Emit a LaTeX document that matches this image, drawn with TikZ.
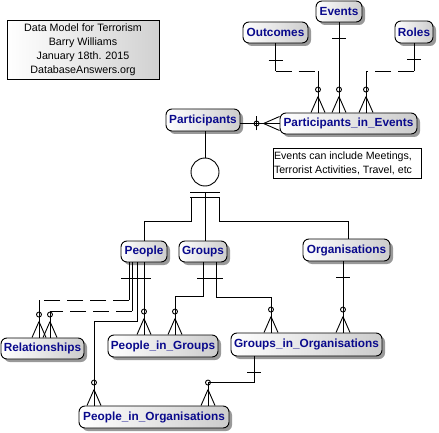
\documentclass[tikz,border=0pt]{standalone}
\usepackage{fontspec}
\setmainfont{Liberation Sans}
\usetikzlibrary{shadows}
\definecolor{entblue}{RGB}{10,10,140}

\begin{document}
\begin{tikzpicture}[x=1pt,y=-1pt,line width=0.9pt,
    entity/.style={draw,rounded corners=6pt,inner sep=0pt,minimum height=21pt,
      left color=white,right color=black!20,
      drop shadow={shadow xshift=3pt,shadow yshift=-3pt,fill=black!40,opacity=1},
      text=entblue,font=\fontsize{11.8}{13}\selectfont\bfseries},
    titlebox/.style={draw,left color=white,right color=black!18,
      minimum width=152pt,minimum height=56pt,align=center,
      font=\fontsize{10.7}{14}\selectfont},
    notebox/.style={draw,fill=white,minimum width=148pt,minimum height=30pt},
    nonid/.style={dash pattern=on 16pt off 7pt},
    crow/.pic={\draw (0,-16) -- (-7,0) (0,-16) -- (7,0);
      \draw (0,-23) circle[radius=2.5];},
    onebar/.pic={\draw (-7,0) -- (7,0);}]
  \useasboundingbox (0,0) rectangle (439,433);

  % notes
  \node[titlebox] (title) at (83,50) {Data Model for Terrorism\\Barry Williams\\
    January 18th. 2015\\DatabaseAnswers.org};
  \node[notebox] (note) at (347,163) {};
  \node[anchor=west,align=left,inner sep=0pt,font=\fontsize{10.6}{14}\selectfont]
    (notetext) at ([xshift=1pt]note.west)
    {Events can include Meetings,\\Terrorist Activities, Travel, etc};

  % entities
  \node[entity,minimum width=46pt] (Events) at (339,11.5) {Events};
  \node[entity,minimum width=65pt] (Outcomes) at (275.5,32.5) {Outcomes};
  \node[entity,minimum width=38pt,minimum height=22pt] (Roles) at (414,32) {Roles};
  \node[entity,minimum width=74pt,minimum height=22pt] (Participants) at (203,120) {Participants};
  \node[entity,minimum width=137pt] (PiE) at (348.5,123.5) {Participants\_in\_Events};
  \node[entity,minimum width=46pt] (People) at (144,251.5) {People};
  \node[entity,minimum width=48pt] (Groups) at (203,251.5) {Groups};
  \node[entity,minimum width=87pt,minimum height=22pt] (Organisations) at (346.5,250) {Organisations};
  \node[entity,minimum width=83pt] (Relationships) at (42.5,348.5) {Relationships};
  \node[entity,minimum width=110pt,minimum height=22pt] (PiG) at (163,346) {People\_in\_Groups};
  \node[entity,minimum width=151pt,minimum height=23pt] (GiO) at (306.5,344.5) {Groups\_in\_Organisations};
  \node[entity,minimum width=150pt,minimum height=22pt] (PiO) at (154,417) {People\_in\_Organisations};

  % events
  \coordinate (pie1) at ([xshift=-30.5pt]PiE.north);
  \coordinate (pie3) at ([xshift=17.5pt]PiE.north);
  \draw (Outcomes.south) -- ++(0,28) coordinate (o1);
  \draw[nonid] (o1) -- (o1 -| pie1);
  \draw (o1 -| pie1) -- (pie1);
  \pic at (pie1) {crow};
  \pic at ([yshift=-17pt]Outcomes.south) {onebar};
  \draw (Events.south) -- (Events.south |- PiE.north);
  \pic at (Events.south |- PiE.north) {crow};
  \pic at ([yshift=-16pt]Events.south) {onebar};
  \draw (Roles.south) -- ++(0,28) coordinate (ro1);
  \draw[nonid] (ro1) -- (ro1 -| pie3);
  \draw (ro1 -| pie3) -- (pie3);
  \pic at (pie3) {crow};
  \pic at ([yshift=-16pt]Roles.south) {onebar};
  \draw (Participants.east |- PiE.west) -- (PiE.west);
  \pic[rotate=90] at (PiE.west) {crow};
  \pic[rotate=90] at ([xshift=-23pt]PiE.west) {onebar};

  % subtypes
  \node[draw,circle,minimum size=28pt,inner sep=0pt] (cat) at (205,172) {};
  \draw (Participants.south -| cat) -- (cat.north);
  \draw (190,192) coordinate (cb1) -- (220,192);
  \draw (190,197) -- (220,197);
  \draw (191,197) -- (191,221) -| (People.north);
  \draw (cb1 -| cat) -- (cat |- Groups.north);
  \draw (219,197) -- (219,221) -| ([xshift=1.5pt]Organisations.north);

  % people
  \coordinate (rel1) at ([xshift=-3.5pt]Relationships.north);
  \coordinate (rel2) at ([xshift=7.5pt]Relationships.north);
  \draw ([xshift=-15pt]People.south) -- ++(0,38) coordinate (r1);
  \draw[nonid] (r1) -- (r1 -| rel1);
  \draw (r1 -| rel1) -- (rel1);
  \draw ([xshift=-12pt]People.south) -- ++(0,49) coordinate (r2);
  \draw[nonid] (r2) -- (r2 -| rel2);
  \draw (r2 -| rel2) -- (rel2);
  \pic at (rel1) {crow};
  \pic at (rel2) {crow};
  \draw ([xshift=-7pt]People.south) -- ++(0,59) -| ([xshift=-60pt]PiO.north);
  \pic at ([xshift=-60pt]PiO.north) {crow};
  \draw (People.south) -- (People.south |- PiG.north);
  \pic at (People.south |- PiG.north) {crow};
  \draw ([shift={(-23,16)}]People.south) -- ++(30,0);

  % groups
  \draw (Groups.south) -- ++(0,34) -| ([xshift=12pt]PiG.north);
  \pic at ([xshift=12pt]PiG.north) {crow};
  \draw ([xshift=13pt]Groups.south) -- ++(0,35) -| ([xshift=-35.5pt]GiO.north);
  \pic at ([xshift=-35.5pt]GiO.north) {crow};
  \draw ([shift={(-6,16)}]Groups.south) -- ++(26,0);

  % organisations
  \coordinate (org1) at ([xshift=-3.5pt]Organisations.south);
  \draw (org1) -- (org1 |- GiO.north);
  \pic at (org1 |- GiO.north) {crow};
  \pic at ([yshift=-16pt]org1) {onebar};
  \draw ([xshift=-52.5pt]GiO.south) -- ++(0,26) -| ([xshift=54pt]PiO.north);
  \pic at ([xshift=54pt]PiO.north) {crow};
  \pic at ([shift={(-52.5,16)}]GiO.south) {onebar};
\end{tikzpicture}
\end{document}
